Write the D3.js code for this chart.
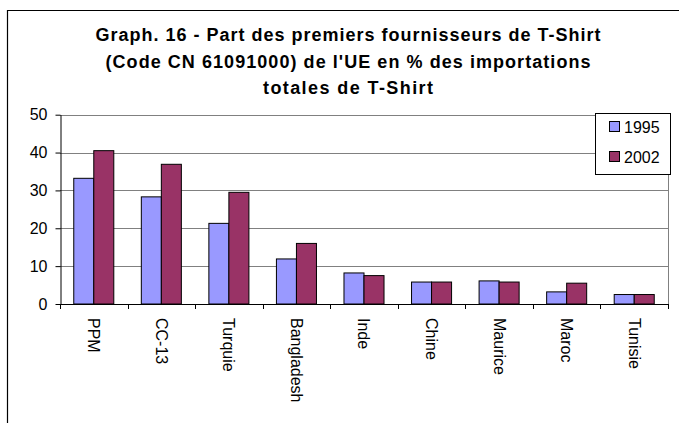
<!DOCTYPE html>
<html><head><meta charset="utf-8">
<script src="https://cdn.jsdelivr.net/npm/d3@7"></script>
<style>body{margin:0;background:#fff}svg{display:block}text{font-family:Arial,"Liberation Sans",sans-serif}</style>
</head><body><svg id="c" width="679" height="423"></svg>
<script>
const categories = ["PPM","CC-13","Turquie","Bangladesh","Inde","Chine","Maurice","Maroc","Tunisie"];
const series = ["1995","2002"];
const values1995 = [33.2,28.3,21.3,11.9,8.2,5.8,6.1,3.2,2.5];
const values2002 = [40.5,36.9,29.5,16.0,7.5,5.8,5.8,5.5,2.5];
const yTicks = [0,10,20,30,40,50];
const titleLines = ["Graph. 16 - Part des premiers fournisseurs de T-Shirt","(Code CN 61091000) de l'UE en % des importations","totales de T-Shirt"];
const colors = ["#9999FF","#993366"];

const svg = d3.select("#c");
// outer frame
svg.append("path").attr("d","M7.5,423 V10.5 H679").attr("fill","none").attr("stroke","#000").attr("stroke-width",1.2);

const L=60, R=668, T=114.7, B=304;
const x = d3.scaleBand().domain(categories).range([L,R]).paddingInner(0).paddingOuter(0);
const gx = d3.scaleBand().domain(series).range([0,x.bandwidth()]).paddingInner(0).paddingOuter(0.6875);
const y = d3.scaleLinear().domain([0,50]).range([B,T]);

// gridlines
svg.append("g").selectAll("line").data(yTicks.filter(d=>d>0)).join("line")
  .attr("x1",L).attr("x2",R).attr("y1",d=>Math.round(y(d))+0.5).attr("y2",d=>Math.round(y(d))+0.5)
  .attr("stroke","#808080").attr("stroke-width",1);
svg.append("line").attr("x1",R+0.5).attr("x2",R+0.5).attr("y1",Math.round(T)+0.5).attr("y2",B).attr("stroke","#808080");

// bars
const data = categories.map((c,i)=>({c, v:[values1995[i],values2002[i]]}));
const g = svg.append("g");
data.forEach(d=>{
  series.forEach((s,j)=>{
    g.append("rect").attr("x",x(d.c)+gx(s)).attr("y",y(d.v[j])).attr("width",gx.bandwidth()).attr("height",B-y(d.v[j]))
     .attr("fill",colors[j]).attr("stroke","#000").attr("stroke-width",1);
  });
});

// y axis
const ya = svg.append("g").attr("transform",`translate(${L+0.5},0)`).call(d3.axisLeft(y).tickValues(yTicks).tickSize(5).tickSizeOuter(0));
ya.select(".domain").attr("stroke","#000");
ya.selectAll("text").attr("font-size",16).attr("fill","#000").attr("dx",-5);
ya.selectAll("line").attr("stroke","#000");

// x axis
svg.append("line").attr("x1",L).attr("x2",R+1).attr("y1",B+0.5).attr("y2",B+0.5).attr("stroke","#000");
const tickPos = categories.map(c=>x(c)).concat([R]);
svg.append("g").selectAll("line").data(tickPos).join("line")
  .attr("x1",d=>Math.round(d)+0.5).attr("x2",d=>Math.round(d)+0.5).attr("y1",B).attr("y2",B+5).attr("stroke","#000");
svg.append("g").selectAll("text").data(categories).join("text")
  .attr("transform",d=>`translate(${x(d)+x.bandwidth()/2},${B+14}) rotate(90)`)
  .attr("dy","0.35em").attr("font-size",16).attr("fill","#000").text(d=>d);

// title
const titleWidths = [505,485,170];
svg.append("g").selectAll("text").data(titleLines).join("text")
  .attr("x",348).attr("y",(d,i)=>41+i*26.5).attr("text-anchor","middle")
  .attr("font-size",18).attr("font-weight","bold").attr("fill","#000")
  .attr("textLength",(d,i)=>titleWidths[i]).attr("lengthAdjust","spacing").text(d=>d);

// legend
const lg = svg.append("g");
lg.append("rect").attr("x",595.5).attr("y",113.5).attr("width",75).attr("height",61).attr("fill","#fff").attr("stroke","#000");
series.forEach((s,j)=>{
  const cy = 127 + j*30;
  lg.append("rect").attr("x",609.5).attr("y",cy-5.5).attr("width",10).attr("height",10).attr("fill",colors[j]).attr("stroke","#000");
  lg.append("text").attr("x",624).attr("y",cy).attr("dy","0.36em").attr("font-size",16).attr("fill","#000").text(s);
});
</script></body></html>
